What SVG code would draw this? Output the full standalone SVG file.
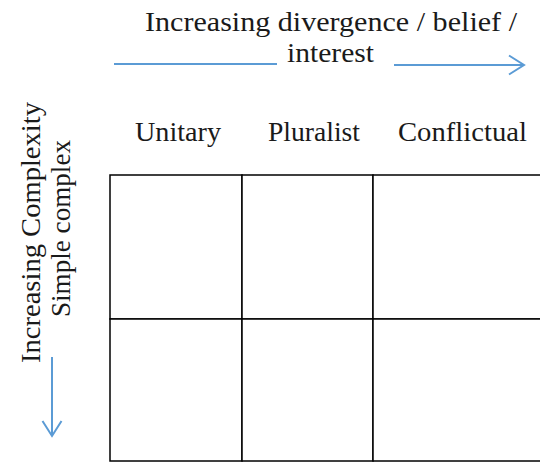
<svg xmlns="http://www.w3.org/2000/svg" width="540" height="462" viewBox="0 0 540 462">
  <style>
    .t { font-family: "Liberation Serif", "DejaVu Serif", serif; font-size: 27px; fill: #1a1a1a; }
    .arr { stroke: #5b9bd5; stroke-width: 2; fill: none; }
    .cell { fill: #ffffff; stroke: #000000; stroke-width: 1.5; }
  </style>
  <defs>
    <marker id="head" markerWidth="20" markerHeight="22" refX="16" refY="11" orient="auto" markerUnits="userSpaceOnUse">
      <path d="M1,1.5 L16,11 L1,20.5" fill="none" stroke="#5b9bd5" stroke-width="2"/>
    </marker>
  </defs>
  <rect width="540" height="462" fill="#ffffff"/>

  <!-- axis titles -->
  <g id="title-x">
    <text class="t" x="145" y="31" textLength="372" lengthAdjust="spacingAndGlyphs">Increasing divergence / belief /</text>
    <text class="t" x="287" y="62" textLength="87" lengthAdjust="spacingAndGlyphs">interest</text>
  </g>
  <g id="title-y">
    <text class="t" transform="translate(40,363) rotate(-90)" textLength="261" lengthAdjust="spacingAndGlyphs">Increasing Complexity</text>
    <text class="t" transform="translate(70,317) rotate(-90)" textLength="177" lengthAdjust="spacingAndGlyphs">Simple complex</text>
  </g>

  <!-- column headings -->
  <g id="col-unitary"><text class="t" x="135" y="141" textLength="86" lengthAdjust="spacingAndGlyphs">Unitary</text></g>
  <g id="col-pluralist"><text class="t" x="268" y="141" textLength="92" lengthAdjust="spacingAndGlyphs">Pluralist</text></g>
  <g id="col-conflictual"><text class="t" x="398" y="141" textLength="129" lengthAdjust="spacingAndGlyphs">Conflictual</text></g>

  <!-- grid cells -->
  <g id="cell-1-1"><rect class="cell" x="110" y="175" width="132" height="144"/></g>
  <g id="cell-1-2"><rect class="cell" x="242" y="175" width="131" height="144"/></g>
  <g id="cell-1-3"><rect class="cell" x="373" y="175" width="170" height="144"/></g>
  <g id="cell-2-1"><rect class="cell" x="110" y="319" width="132" height="142"/></g>
  <g id="cell-2-2"><rect class="cell" x="242" y="319" width="131" height="142"/></g>
  <g id="cell-2-3"><rect class="cell" x="373" y="319" width="170" height="142"/></g>

  <!-- connectors -->
  <g id="connectors">
    <line class="arr" x1="114" y1="64" x2="277" y2="64"/>
    <line class="arr" x1="394" y1="65" x2="524" y2="65" marker-end="url(#head)"/>
    <line class="arr" x1="52" y1="357" x2="52" y2="436" marker-end="url(#head)"/>
  </g>
</svg>
